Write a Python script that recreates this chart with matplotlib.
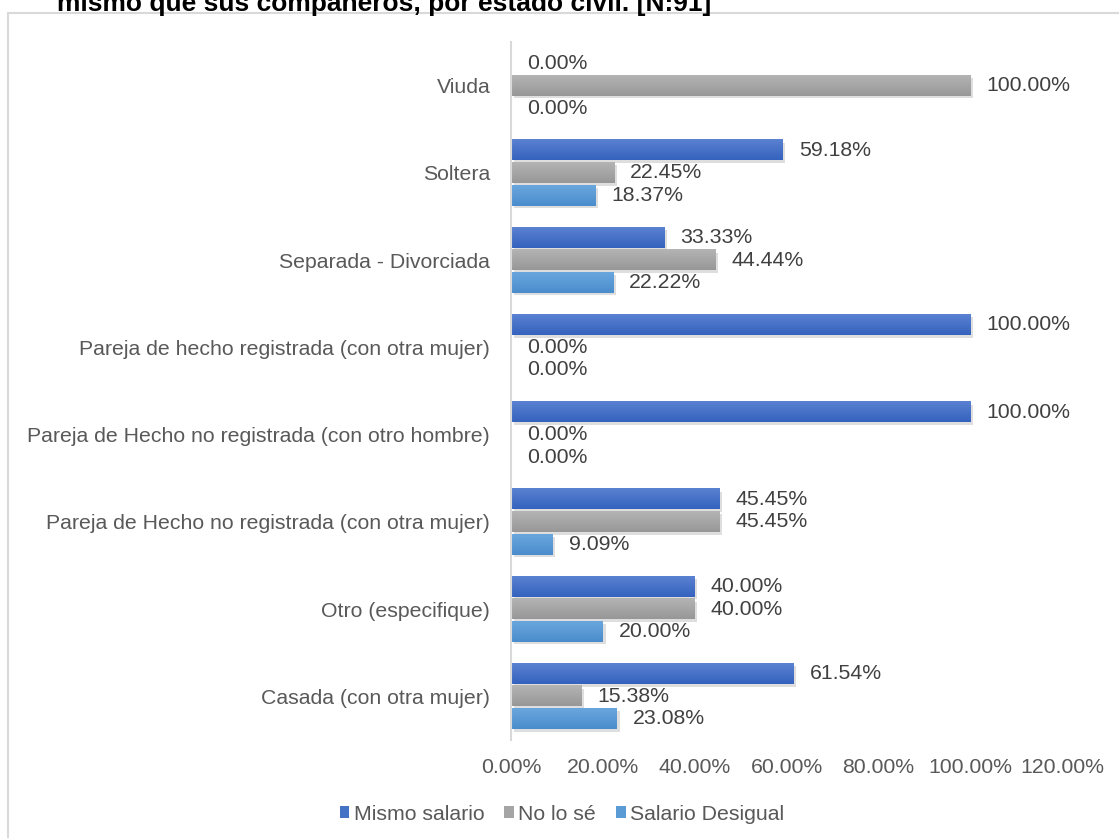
import numpy as np
import matplotlib.pyplot as plt
from matplotlib.patches import Rectangle
from matplotlib.colors import LinearSegmentedColormap

plt.rcParams['font.family'] = ['Liberation Sans', 'DejaVu Sans']

# categories, bottom to top as drawn
categorias = [
    'Casada (con otra mujer)',
    'Otro (especifique)',
    'Pareja de Hecho no registrada (con otra mujer)',
    'Pareja de Hecho no registrada (con otro hombre)',
    'Pareja de hecho registrada (con otra mujer)',
    'Separada - Divorciada',
    'Soltera',
    'Viuda',
]
mismo_salario = [61.54, 40.00, 45.45, 100.00, 100.00, 33.33, 59.18, 0.00]
no_lo_se = [15.38, 40.00, 45.45, 0.00, 0.00, 44.44, 22.45, 100.00]
salario_desigual = [23.08, 20.00, 9.09, 0.00, 0.00, 22.22, 18.37, 0.00]

# name, values, base colour, gradient top, gradient bottom, offset in group
series = [
    ('Mismo salario', mismo_salario, '#4472C4', '#5b82d2', '#3462bd', 0.258),
    ('No lo sé', no_lo_se, '#A5A5A5', '#b4b4b4', '#979797', 0.0),
    ('Salario Desigual', salario_desigual, '#5B9BD5', '#6aa6de', '#4a8dcc', -0.258),
]

W, H = 1119, 838
fs = 15.3
txt = '#595959'
val_txt = '#404040'
bh = 0.232

fig = plt.figure(figsize=(W / 100, H / 100), dpi=100)
ax = fig.add_axes([511 / W, 98 / H, 551 / W, 698 / H])

# chart border
fig.patches.append(Rectangle((8 / W, -0.1), 1.2, 1 - 13.5 / H + 0.1, transform=fig.transFigure,
                             fill=False, edgecolor='#d9d9d9', linewidth=1.5))

# title, cut off at the top like the source
fig.text(57 / W, 1 - 11 / H, 'mismo que sus compañeros, por estado civil. [N:91]',
         fontsize=19, fontweight='bold', color='black', va='baseline', ha='left')

y = np.arange(len(categorias))
grad = np.linspace(0, 1, 64).reshape(-1, 1)
for name, vals, col, ctop, cbot, off in series:
    cmap = LinearSegmentedColormap.from_list(name, [ctop, cbot])
    # soft shadow
    ax.barh(y + off - 0.03, vals, height=bh, left=0.6, color='#000000', alpha=0.13,
            zorder=1, linewidth=0)
    ax.barh(y + off, vals, height=bh, color=col, label=name, zorder=2, linewidth=0)
    for yi, v in zip(y, vals):
        if v > 0:
            ax.imshow(grad, extent=[0, v, yi + off - bh / 2, yi + off + bh / 2],
                      aspect='auto', cmap=cmap, zorder=2.5, interpolation='bilinear')
        ax.annotate(f'{v:.2f}%', (v, yi + off), xytext=(11.5, 0), textcoords='offset points',
                    va='center', ha='left', fontsize=fs, color=val_txt)

ax.set_xlim(0, 120)
ax.set_ylim(-0.5, len(categorias) - 0.5)
ax.set_xticks(np.arange(0, 121, 20))
ax.set_xticklabels([f'{t:.2f}%' for t in np.arange(0, 121, 20)])
ax.set_yticks(y)
ax.set_yticklabels(categorias)
ax.tick_params(axis='both', length=0, labelsize=fs, labelcolor=txt)
ax.tick_params(axis='y', pad=15)
ax.tick_params(axis='x', pad=13)
for s in ['top', 'right', 'bottom']:
    ax.spines[s].set_visible(False)
ax.spines['left'].set_color('#d9d9d9')
ax.spines['left'].set_linewidth(1.5)
ax.spines['left'].set_zorder(3)

handles, labels = ax.get_legend_handles_labels()
fig.legend(handles, labels, loc='center', bbox_to_anchor=(562 / W, 1 - 814 / H), ncol=3,
           frameon=False, fontsize=fs, labelcolor=txt, handlelength=0.45, handleheight=0.45,
           handletextpad=0.2, columnspacing=0.95)

fig.savefig('out.png', dpi=100)
